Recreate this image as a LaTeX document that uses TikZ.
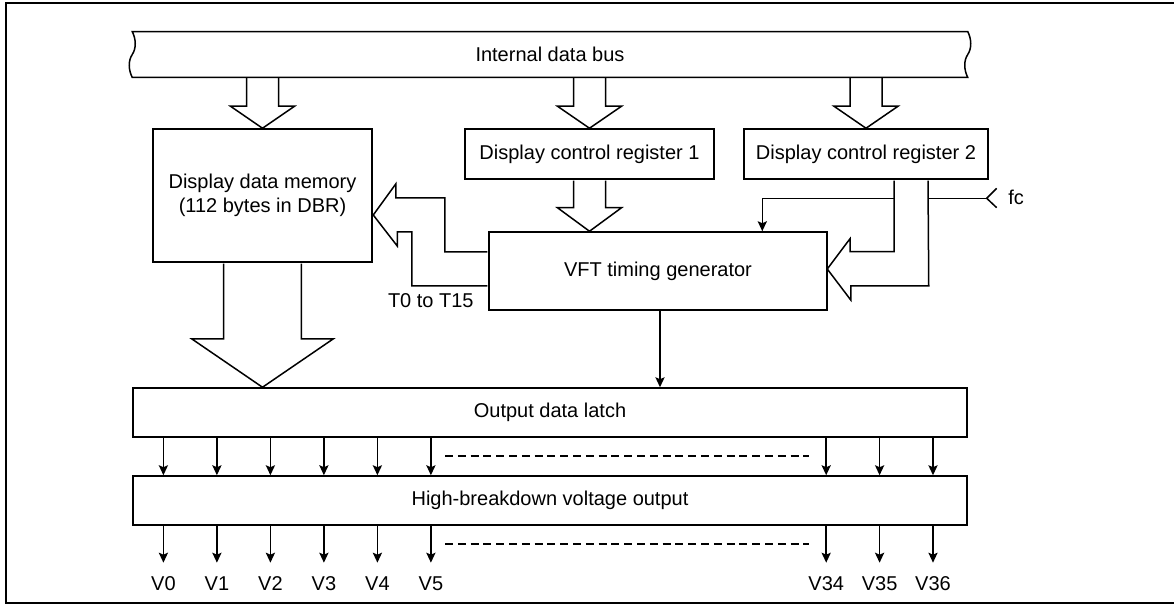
\documentclass[tikz,border=0pt]{standalone}
\usepackage{fontspec}
\setmainfont{Liberation Sans}
\usetikzlibrary{arrows.meta,calc,positioning}

\begin{document}
\begin{tikzpicture}[x=0.5pt,y=-0.5pt,line width=0.75pt,
  blk/.style={draw,minimum height=25pt,inner sep=0pt,align=center},
  fatarr/.style={draw,fill=white,line join=miter},
  sig/.style={-{Stealth[length=5pt,width=4.6pt,inset=1pt]}},
  vlbl/.style={anchor=north,inner sep=0pt},
  dots/.style={dash pattern=on 4pt off 2.4pt},
]
\useasboundingbox (0,0) rectangle (1174,604);
\draw[line width=1pt] (1174,3.5) -- (6,3.5) -- (6,602.7) -- (1174,602.7);

% bus and blocks
\node[minimum width=417pt,minimum height=22.2pt,inner sep=0pt] (bus) at (550,54.5) {Internal data bus};
\node[blk,minimum width=109.5pt,minimum height=66.5pt] (ddm) at (262.5,195.5) {Display data memory\\(112 bytes in DBR)};
\node[blk,minimum width=124.5pt] (reg1) at (589.5,154) {Display control register 1};
\node[blk,minimum width=122pt] (reg2) at (866,154) {Display control register 2};
\node[blk,minimum width=169pt,minimum height=39pt] (vft) at (658,271) {VFT timing generator};
\node[blk,minimum width=417pt,minimum height=24.5pt] (latch) at (550,412.5) {Output data latch};
\node[blk,minimum width=417pt,minimum height=24.5pt] (hbv) at (550,500.5) {High-breakdown voltage output};
\node (tlbl) at (430.8,300.5) {T0 to T15};

% hollow bus arrows
\foreach \nd in {ddm,reg1,reg2}
  \draw[fatarr] ($(bus.south -| \nd.north)+(-16,0)$) -- ($(\nd.north)+(-16,-22)$)
    -- ($(\nd.north)+(-32,-22)$) -- (\nd.north) -- ($(\nd.north)+(32,-22)$)
    -- ($(\nd.north)+(16,-22)$) -- ($(bus.south -| \nd.north)+(16,0)$);
\draw (bus.south west) .. controls +(-4,-8) and +(-4,6) .. (bus.west)
  .. controls +(4,-6) and +(4,8) .. (bus.north west) -- (bus.north east)
  .. controls +(4,8) and +(4,-6) .. (bus.east)
  .. controls +(-4,6) and +(-4,-8) .. (bus.south east) -- cycle;
\coordinate (t1) at (vft.north -| reg1.south);
\draw[fatarr] ($(reg1.south)+(-16,0.8)$) -- ($(t1)+(-16,-23.5)$) -- ($(t1)+(-32,-23.5)$)
  -- (t1) -- ($(t1)+(32,-23.5)$) -- ($(t1)+(16,-23.5)$) -- ($(reg1.south)+(16,0.8)$);
\coordinate (t2) at (latch.north -| ddm.south);
\draw[fatarr] ($(ddm.south)+(-38.8,0.8)$) -- ($(t2)+(-38.8,-48.4)$) -- ($(t2)+(-70.8,-48.4)$)
  -- (t2) -- ($(t2)+(70.8,-48.4)$) -- ($(t2)+(38.8,-48.4)$) -- ($(ddm.south)+(38.8,0.8)$);

% timing outputs back to memory
\coordinate (t3) at ($(ddm.east)+(0.5,19.5)$);
\draw[fatarr] ($(vft.west)+(-0.8,-19)$) -- ++(-42.7,0) -- ++(0,-54) -- ++(-49,0) -- ++(0,-14)
  -- (t3) -- ++(24,31) -- ++(0,-14) -- ++(14.5,0) -- ++(0,54) -- ($(vft.west)+(-0.8,15)$);

% fc clock input
\coordinate (fc) at (986.7,198.3);
\node[anchor=west] (fclbl) at (1001,197) {fc};
\draw (fc) -- ++(10,-10) (fc) -- ++(10,9.4);
\draw[sig] (fc) -| ($(vft.north)+(104.3,0)$);

% control register 2 to timing generator
\coordinate (t4) at ($(vft.east)+(-0.5,-2)$);
\draw[fatarr] ($(reg2.south)+(28,0.8)$) -- ++(0,71.2) -- ++(-44,0) -- ++(0,-13)
  -- (t4) -- ++(23.5,31) -- ++(0,-14) -- ++(78,0) -- ($(reg2.south)+(62,0.8)$);

\draw[sig] ($(vft.south)+(2,0)$) -- ($(vft.south |- latch.north)+(2,0)$);

% output lines
\foreach \x/\n in {163.4/0,216.9/1,270.4/2,323.9/3,377.4/4,430.9/5,826.2/34,879.6/35,933/36} {
  \node[vlbl] (v\n) at (\x,575.5) {V\n};
  \draw[sig] (latch.south -| v\n.north) -- (hbv.north -| v\n.north);
  \draw[sig] (hbv.south -| v\n.north) -- ([yshift=6.4pt]v\n.north);
}
\draw[dots] (445,456) -- (809,456);
\draw[dots] (445,544) -- (809,544);
\end{tikzpicture}
\end{document}
